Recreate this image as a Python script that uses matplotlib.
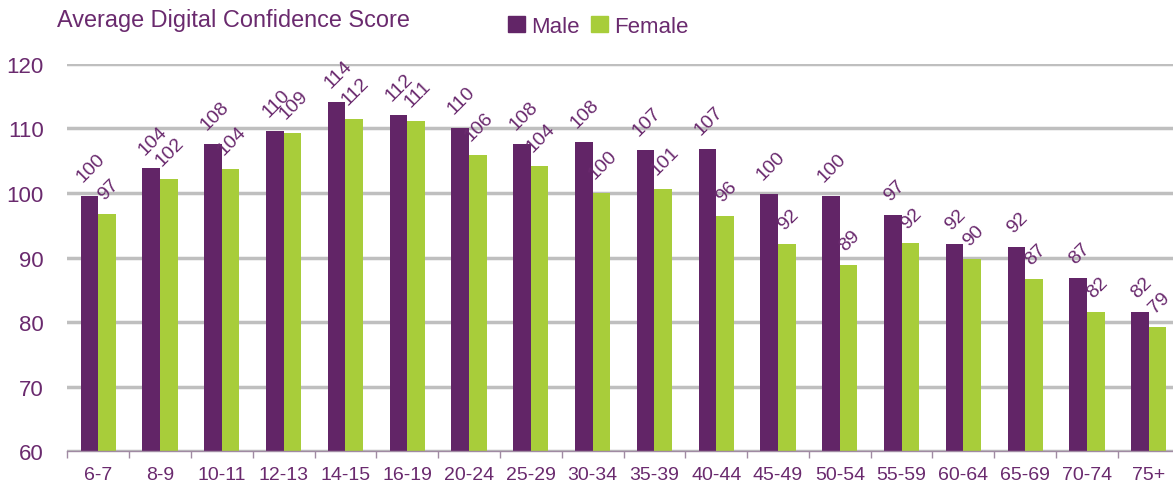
import numpy as np
import matplotlib.pyplot as plt
from matplotlib.patches import Patch

# ---------- DATA ----------
age_groups = ["6-7", "8-9", "10-11", "12-13", "14-15", "16-19", "20-24", "25-29",
              "30-34", "35-39", "40-44", "45-49", "50-54", "55-59", "60-64",
              "65-69", "70-74", "75+"]
male = [99.6, 103.8, 107.6, 109.6, 114.1, 112.1, 110.1, 107.6, 107.9,
        106.6, 106.8, 99.9, 99.6, 96.6, 92.1, 91.6, 86.9, 81.5]
female = [96.7, 102.1, 103.7, 109.3, 111.5, 111.1, 105.9, 104.2, 100.0,
          100.6, 96.4, 92.1, 88.8, 92.3, 89.7, 86.7, 81.6, 79.2]
y_ticks = [60, 70, 80, 90, 100, 110, 120]

# ---------- STYLE ----------
PURPLE = "#622567"
GREEN = "#A8CD3A"
TEXT = "#6A2A6E"
GRID = "#BFBFBF"
AXIS = "#A08AA3"
BAR_W = 0.286

plt.rcParams["font.family"] = ["Liberation Sans", "DejaVu Sans"]

fig = plt.figure(figsize=(11.73, 4.85), dpi=100)
# right edge runs a little past the canvas, as in the original
ax = fig.add_axes([0.0574, 0.068, 0.9483, 0.798])

x = np.arange(len(age_groups))
ax.bar(x - BAR_W / 2, male, BAR_W, color=PURPLE, zorder=3)
ax.bar(x + BAR_W / 2, female, BAR_W, color=GREEN, zorder=3)

# rotated value labels above each bar
for xi, m, f in zip(x, male, female):
    for xpos, v in ((xi - BAR_W / 2, m), (xi + BAR_W / 2, f)):
        ax.annotate(f"{v:.0f}", (xpos, v), xytext=(1, 8), textcoords="offset points",
                    ha="center", va="bottom", rotation=45,
                    fontsize=14, color=TEXT, zorder=4)

ax.set_xlim(-0.5, len(age_groups) - 0.5)
ax.set_ylim(60, 120)
ax.set_yticks(y_ticks)
ax.tick_params(axis="y", length=0, labelsize=16, labelcolor=TEXT, pad=17)
ax.yaxis.grid(True, color=GRID, linewidth=2.5, zorder=0)

# category labels centred, tick marks on the boundaries
ax.set_xticks(x)
ax.set_xticklabels(age_groups)
ax.tick_params(axis="x", which="major", length=0, labelsize=14, labelcolor=TEXT, pad=11)
ax.set_xticks(np.arange(-0.5, len(age_groups)), minor=True)
ax.tick_params(axis="x", which="minor", length=5, color=AXIS, width=1)

for side in ("top", "right", "left"):
    ax.spines[side].set_visible(False)
ax.spines["bottom"].set_color(AXIS)
ax.spines["bottom"].set_linewidth(1)
ax.spines["bottom"].set_zorder(5)

fig.text(0.049, 0.957, "Average Digital Confidence Score", fontsize=16.9,
         color=TEXT, ha="left", va="center")

handles = [Patch(color=PURPLE, label="Male"), Patch(color=GREEN, label="Female")]
fig.legend(handles=handles, loc="center", bbox_to_anchor=(0.5102, 0.944), ncol=2,
           frameon=False, fontsize=16, handlelength=0.75, handleheight=0.75,
           handletextpad=0.3, columnspacing=0.5, labelcolor=TEXT)

fig.savefig("out.png", dpi=100)
